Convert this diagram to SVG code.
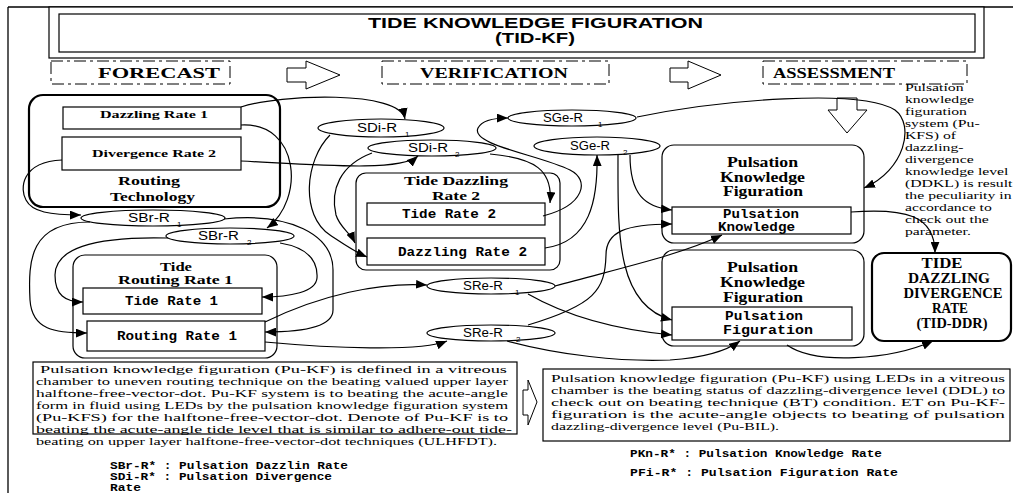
<svg xmlns="http://www.w3.org/2000/svg" width="1013" height="493" viewBox="0 0 1013 493">
<defs>
<marker id="ah" viewBox="0 0 10 8" refX="10" refY="4" markerWidth="11" markerHeight="9" markerUnits="userSpaceOnUse" orient="auto"><path d="M0,0 L10,4 L0,8 z" fill="#000"/></marker>
</defs>
<style>
.frame{fill:none;stroke:#000;stroke-width:1.3}
.box{fill:#fff;stroke:#000;stroke-width:1.2}
.node{fill:#fff;stroke:#000;stroke-width:1.2}
.thick{stroke-width:2.2}
.phase{fill:#fff;stroke:#000;stroke-width:1;stroke-dasharray:12 4 3 4}
.barrow{fill:#fff;stroke:#000;stroke-width:1}
.ell{fill:#fff;stroke:#000;stroke-width:1.2}
.conn path{fill:none;stroke:#000;stroke-width:1.2;marker-end:url(#ah)}
text{fill:#000}
.title{font-family:"Liberation Sans",Arial,sans-serif;font-weight:bold;font-size:14px}
.ph{font-family:"Liberation Serif","Times New Roman",serif;font-weight:bold;font-size:15px}
.nt{font-family:"Liberation Serif","Times New Roman",serif;font-weight:bold;font-size:13px}
.big{font-size:14px}
.lab{font-family:"Liberation Mono","DejaVu Sans Mono",monospace;font-weight:bold;font-size:13px}
.el{font-family:"Liberation Sans",Arial,sans-serif;font-size:12px}
.sub{font-family:"Liberation Sans",Arial,sans-serif;font-size:8px}
.para{font-family:"Liberation Serif","Times New Roman",serif;font-size:11px}
.leg{font-family:"Liberation Mono","Courier New",monospace;font-weight:bold;font-size:11px;white-space:pre}
</style>

<g id="frame">
<line class="frame" x1="8" y1="7" x2="8" y2="493"/>
<line class="frame" x1="8" y1="7" x2="1013" y2="7"/>
</g>

<g id="title">
<rect class="box" x="49" y="7" width="935" height="51"/>
<rect class="box" x="59" y="14" width="916" height="38"/>
<text class="title" x="368" y="28" textLength="335" lengthAdjust="spacingAndGlyphs">TIDE KNOWLEDGE FIGURATION</text>
<text class="title" x="495" y="43" textLength="80" lengthAdjust="spacingAndGlyphs">(TID-KF)</text>
</g>

<g id="phase-forecast">
<rect class="phase" x="51" y="61" width="179" height="23"/>
<text class="ph" x="98" y="78" textLength="122" lengthAdjust="spacingAndGlyphs">FORECAST</text>
</g>
<g id="phase-verification">
<rect class="phase" x="382" y="61" width="227" height="23"/>
<text class="ph" x="420" y="78" textLength="148" lengthAdjust="spacingAndGlyphs">VERIFICATION</text>
</g>
<g id="phase-assessment">
<rect class="phase" x="763" y="61" width="204" height="23"/>
<text class="ph" x="773" y="78" textLength="122" lengthAdjust="spacingAndGlyphs">ASSESSMENT</text>
</g>
<g id="block-arrows">
<polygon class="barrow" points="287,68 306,68 306,61 340,75 306,89 306,82 287,82"/>
<polygon class="barrow" points="670,68 688,68 688,61 721,75 688,89 688,82 670,82"/>
<polygon class="barrow" points="837,98 857,98 857,110 867,110 847,133 828,110 837,110"/>
<polygon class="barrow" points="523,390 528,390 528,380 537,402 528,425 528,415 523,415"/>
</g>

<g id="note-right" class="para" transform="translate(905,0) scale(1.43,1)">
<text x="0" y="91">Pulsation</text>
<text x="0" y="103">knowledge</text>
<text x="0" y="115">figuration</text>
<text x="0" y="127">system (Pu-</text>
<text x="0" y="139">KFS) of</text>
<text x="0" y="151">dazzling-</text>
<text x="0" y="163">divergence</text>
<text x="0" y="175">knowledge level</text>
<text x="0" y="187">(DDKL) is result</text>
<text x="0" y="199">the peculiarity in</text>
<text x="0" y="211">accordance to</text>
<text x="0" y="223">check out the</text>
<text x="0" y="235">parameter.</text>
</g>

<g id="routing-technology">
<rect class="node thick" x="29" y="95" width="251" height="112" rx="14"/>
<text class="nt" x="118" y="185" textLength="62" lengthAdjust="spacingAndGlyphs">Routing</text>
<text class="nt" x="110" y="201" textLength="85" lengthAdjust="spacingAndGlyphs">Technology</text>
</g>
<g id="dazzling-rate-1">
<rect class="box" x="63" y="107" width="178" height="22"/>
<text class="nt" style="font-size:11px" x="100" y="118" textLength="108" lengthAdjust="spacingAndGlyphs">Dazzling Rate 1</text>
</g>
<g id="divergence-rate-2">
<rect class="box" x="62" y="137" width="179" height="33"/>
<text class="nt" style="font-size:11px" x="92" y="157" textLength="124" lengthAdjust="spacingAndGlyphs">Divergence Rate 2</text>
</g>

<g id="tide-dazzling-rate-2">
<rect class="node" x="356" y="173" width="204" height="97" rx="10"/>
<text class="nt" x="404" y="185" textLength="104" lengthAdjust="spacingAndGlyphs">Tide Dazzling</text>
<text class="nt" x="432" y="200" textLength="48" lengthAdjust="spacingAndGlyphs">Rate 2</text>
</g>
<g id="tide-rate-2">
<rect class="box" x="367" y="203" width="178" height="22"/>
<text class="lab" x="402" y="218" textLength="94" lengthAdjust="spacingAndGlyphs">Tide Rate 2</text>
</g>
<g id="dazzling-rate-2">
<rect class="box" x="367" y="238" width="178" height="27"/>
<text class="lab" x="398" y="256" textLength="129" lengthAdjust="spacingAndGlyphs">Dazzling Rate 2</text>
</g>

<g id="tide-routing-rate-1">
<rect class="node" x="73" y="255" width="204" height="103" rx="12"/>
<text class="nt" x="160" y="271" textLength="32" lengthAdjust="spacingAndGlyphs">Tide</text>
<text class="nt" x="118" y="284" textLength="115" lengthAdjust="spacingAndGlyphs">Routing Rate 1</text>
</g>
<g id="tide-rate-1">
<rect class="box" x="83" y="288" width="179" height="26"/>
<text class="lab" x="125" y="305" textLength="93" lengthAdjust="spacingAndGlyphs">Tide Rate 1</text>
</g>
<g id="routing-rate-1">
<rect class="box" x="87" y="321" width="178" height="30"/>
<text class="lab" x="117" y="340" textLength="120" lengthAdjust="spacingAndGlyphs">Routing Rate 1</text>
</g>

<g id="pkf-1">
<rect class="node" x="662" y="145" width="202" height="98" rx="12"/>
<text class="nt big" x="727" y="167" textLength="71" lengthAdjust="spacingAndGlyphs">Pulsation</text>
<text class="nt big" x="720" y="182" textLength="85" lengthAdjust="spacingAndGlyphs">Knowledge</text>
<text class="nt big" x="723" y="196" textLength="80" lengthAdjust="spacingAndGlyphs">Figuration</text>
</g>
<g id="pulsation-knowledge">
<rect class="box" x="672" y="207" width="179" height="27"/>
<text class="lab" x="723" y="218" textLength="76" lengthAdjust="spacingAndGlyphs">Pulsation</text>
<text class="lab" x="718" y="231" textLength="77" lengthAdjust="spacingAndGlyphs">Knowledge</text>
</g>

<g id="pkf-2">
<rect class="node" x="662" y="250" width="202" height="96" rx="12"/>
<text class="nt big" x="727" y="272" textLength="71" lengthAdjust="spacingAndGlyphs">Pulsation</text>
<text class="nt big" x="720" y="287" textLength="85" lengthAdjust="spacingAndGlyphs">Knowledge</text>
<text class="nt big" x="723" y="302" textLength="80" lengthAdjust="spacingAndGlyphs">Figuration</text>
</g>
<g id="pulsation-figuration">
<rect class="box" x="672" y="307" width="180" height="33"/>
<text class="lab" x="725" y="320" textLength="78" lengthAdjust="spacingAndGlyphs">Pulsation</text>
<text class="lab" x="723" y="334" textLength="90" lengthAdjust="spacingAndGlyphs">Figuration</text>
</g>

<g id="tid-ddr">
<rect class="node thick" x="872" y="253" width="139" height="88" rx="12"/>
<text class="nt" style="font-size:15px" x="942" y="268" text-anchor="middle" textLength="41" lengthAdjust="spacingAndGlyphs">TIDE</text>
<text class="nt" style="font-size:15px" x="949" y="283" text-anchor="middle" textLength="82" lengthAdjust="spacingAndGlyphs">DAZZLING</text>
<text class="nt" style="font-size:15px" x="953" y="298" text-anchor="middle" textLength="99" lengthAdjust="spacingAndGlyphs">DIVERGENCE</text>
<text class="nt" style="font-size:15px" x="950" y="313" text-anchor="middle" textLength="36" lengthAdjust="spacingAndGlyphs">RATE</text>
<text class="nt" style="font-size:15px" x="952" y="328" text-anchor="middle" textLength="71" lengthAdjust="spacingAndGlyphs">(TID-DDR)</text>
</g>

<g id="sbr-r1"><ellipse class="ell" cx="153" cy="218" rx="72" ry="8"/><text class="el" x="128" y="222" textLength="42" lengthAdjust="spacingAndGlyphs">SBr-R</text><text class="sub" x="177" y="227">1</text></g>
<g id="sbr-r2"><ellipse class="ell" cx="230" cy="236" rx="64" ry="8"/><text class="el" x="198" y="240" textLength="41" lengthAdjust="spacingAndGlyphs">SBr-R</text><text class="sub" x="247" y="245">2</text></g>
<g id="sdi-r1"><ellipse class="ell" cx="381" cy="128" rx="63" ry="9"/><text class="el" x="357" y="132" textLength="40" lengthAdjust="spacingAndGlyphs">SDi-R</text><text class="sub" x="405" y="137">1</text></g>
<g id="sdi-r2"><ellipse class="ell" cx="432" cy="148" rx="64" ry="8"/><text class="el" x="408" y="152" textLength="40" lengthAdjust="spacingAndGlyphs">SDi-R</text><text class="sub" x="455" y="157">2</text></g>
<g id="sge-r1"><ellipse class="ell" cx="572" cy="118" rx="64" ry="8"/><text class="el" x="543" y="122" textLength="40" lengthAdjust="spacingAndGlyphs">SGe-R</text><text class="sub" x="598" y="127">1</text></g>
<g id="sge-r2"><ellipse class="ell" cx="597" cy="146" rx="63" ry="9"/><text class="el" x="570" y="150" textLength="40" lengthAdjust="spacingAndGlyphs">SGe-R</text><text class="sub" x="623" y="155">2</text></g>
<g id="sre-r1"><ellipse class="ell" cx="491" cy="286" rx="64" ry="8"/><text class="el" x="463" y="290" textLength="40" lengthAdjust="spacingAndGlyphs">SRe-R</text><text class="sub" x="515" y="295">1</text></g>
<g id="sre-r2"><ellipse class="ell" cx="491" cy="333" rx="64" ry="8"/><text class="el" x="463" y="337" textLength="40" lengthAdjust="spacingAndGlyphs">SRe-R</text><text class="sub" x="516" y="342">2</text></g>

<g id="note-left">
<rect class="box" x="33" y="362" width="484" height="72"/>
<g class="para">
<text x="40" y="373" textLength="467" lengthAdjust="spacingAndGlyphs">Pulsation knowledge figuration (Pu-KF) is defined in a vitreous</text>
<text x="36" y="385" textLength="472" lengthAdjust="spacingAndGlyphs">chamber to uneven routing technique on the beating valued upper layer</text>
<text x="36" y="397" textLength="472" lengthAdjust="spacingAndGlyphs">halftone-free-vector-dot. Pu-KF system is to beating the acute-angle</text>
<text x="36" y="409" textLength="472" lengthAdjust="spacingAndGlyphs">form in fluid using LEDs by the pulsation knowledge figuration system</text>
<text x="36" y="421" textLength="472" lengthAdjust="spacingAndGlyphs">(Pu-KFS) for the halftone-free-vector-dot. Denote of Pu-KF is to</text>
<text x="36" y="433" textLength="476" lengthAdjust="spacingAndGlyphs">beating the acute-angle tide level that is similar to adhere-out tide-</text>
<text x="36" y="445" textLength="461" lengthAdjust="spacingAndGlyphs">beating on upper layer halftone-free-vector-dot techniques (ULHFDT).</text>
</g>
<g class="leg">
<text x="110" y="469" textLength="238" lengthAdjust="spacingAndGlyphs">SBr-R* : Pulsation Dazzlin Rate</text>
<text x="110" y="480" textLength="222" lengthAdjust="spacingAndGlyphs">SDi-R* : Pulsation Divergence</text>
<text x="110" y="491" textLength="31" lengthAdjust="spacingAndGlyphs">Rate</text>
</g>
</g>

<g id="note-bottom-right">
<rect class="box" x="543" y="369" width="467" height="72"/>
<g class="para">
<text x="551" y="382" textLength="454" lengthAdjust="spacingAndGlyphs">Pulsation knowledge figuration (Pu-KF) using LEDs in a vitreous</text>
<text x="551" y="394" textLength="454" lengthAdjust="spacingAndGlyphs">chamber is the beating status of dazzling-divergence level (DDL) to</text>
<text x="551" y="406" textLength="454" lengthAdjust="spacingAndGlyphs">check out on beating technique (BT) condition. ET on Pu-KF-</text>
<text x="551" y="418" textLength="454" lengthAdjust="spacingAndGlyphs">figuration is the acute-angle objects to beating of pulsation</text>
<text x="551" y="430" textLength="228" lengthAdjust="spacingAndGlyphs">dazzling-divergence level (Pu-BIL).</text>
</g>
<g class="leg">
<text x="630" y="457" textLength="252" lengthAdjust="spacingAndGlyphs">PKn-R* : Pulsation Knowledge Rate</text>
<text x="630" y="476" textLength="268" lengthAdjust="spacingAndGlyphs">PFi-R* : Pulsation  Figuration Rate</text>
</g>
</g>

<g id="connectors" class="conn">
<path d="M241,107 C280,94 400,90 405,119"/>
<path d="M241,125 C300,122 305,200 267,228"/>
<path d="M62,160 C20,162 20,190 26,200 C32,212 50,215 81,215"/>
<path d="M241,161 C320,165 400,172 418,156"/>
<path d="M372,153 C340,165 330,190 336,215 C340,228 350,232 355,243"/>
<path d="M330,135 C305,160 300,215 330,235 C345,245 355,252 367,257"/>
<path d="M490,154 C535,158 553,170 550,203"/>
<path d="M543,216 C585,205 590,180 570,170 C540,155 470,145 478,128 C482,120 495,118 508,118"/>
<path d="M545,248 C590,242 598,200 597,155"/>
<path d="M637,117 C720,100 860,88 895,110 C915,125 905,170 864,188"/>
<path d="M630,155 C630,195 645,207 672,210"/>
<path d="M528,325 C595,305 605,290 606,255 C606,232 625,224 672,224"/>
<path d="M618,155 C618,230 615,305 672,320"/>
<path d="M555,286 C620,268 680,255 722,235"/>
<path d="M528,294 C570,318 620,330 672,335"/>
<path d="M507,341 C560,355 620,362 670,360 C700,358 725,352 740,341"/>
<path d="M851,212 C905,208 935,215 935,253"/>
<path d="M787,345 C815,365 890,360 933,341"/>
<path d="M265,322 C320,295 380,282 427,285"/>
<path d="M265,342 C330,348 420,352 447,341"/>
<path d="M90,222 C30,222 28,260 30,300 C32,330 55,333 87,333"/>
<path d="M168,238 C90,236 55,250 55,275 C55,295 65,302 83,302"/>
<path d="M224,219 C290,212 333,235 333,270 L333,310 C333,328 300,332 265,332"/>
<path d="M280,243 C310,248 318,262 317,278 C316,292 290,297 262,297"/>
</g>
</svg>
